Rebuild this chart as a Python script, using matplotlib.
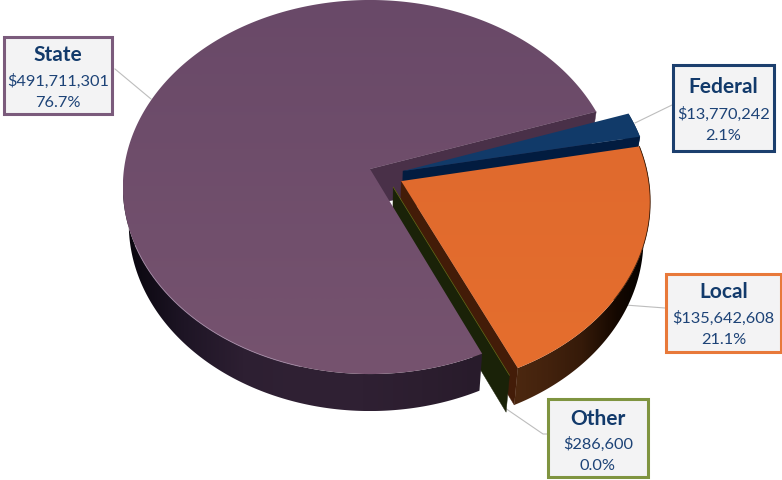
import numpy as np
import matplotlib
matplotlib.use("Agg")
import matplotlib.pyplot as plt
from matplotlib.colors import LinearSegmentedColormap
from matplotlib.patches import Rectangle, Polygon

# Funding by source, listed clockwise from the first slice
categories = ["Federal", "Local", "Other", "State"]
amounts = [13770242, 135642608, 286600, 491711301]
percent_labels = ["2.1%", "21.1%", "0.0%", "76.7%"]

plt.rcParams["font.family"] = ["Lato", "DejaVu Sans"]

W, H = 782, 481
fig = plt.figure(figsize=(W / 100, H / 100), dpi=100)
ax = fig.add_axes([0, 0, 1, 1])
ax.set_xlim(0, W)
ax.set_ylim(H, 0)
ax.axis("off")

# Perspective view of the unit disk; the lower rim sits slightly narrower
CX, CY = 370.0, 170.0
A, P, Q = 246.0, 185.3, 0.0963
DEPTH = 37.0
BOTTOM_SCALE = 0.976
START_ANGLE = 18.6

# Explosion offset of each slice, in disk units
offsets = {"Federal": (0.134, -0.011), "Local": (0.126, -0.065),
           "Other": (0.0935, -0.097), "State": (0.0, 0.0)}
top_colors = {"Federal": ("#113a69", "#123b6a"), "Local": ("#e06a2e", "#e56e2d"),
              "Other": ("#1a2208", "#1a2208"), "State": ("#694968", "#76536f")}


def project(c, s):
    w = 1 + Q * s
    return CX + A * c / w, CY - P * s / w


def lower(x, y):
    return CX + (x - CX) * BOTTOM_SCALE, y + DEPTH


def slice_angles():
    sweep = np.array(amounts) / sum(amounts) * 360
    ends = START_ANGLE - np.cumsum(sweep)
    starts = ends + sweep
    return dict(zip(categories, zip(starts, ends)))


ANG = slice_angles()


def arc(name, n=400):
    a0, a1 = ANG[name]
    t = np.radians(np.linspace(a0, a1, n))
    dx, dy = offsets[name]
    return np.cos(t) + dx, np.sin(t) + dy


def top_outline(name):
    c, s = arc(name)
    ox, oy = offsets[name]
    x, y = project(np.r_[ox, c], np.r_[oy, s])
    return np.column_stack([x, y])


def radial_wall(name, angle, color, z):
    ox, oy = offsets[name]
    t = np.radians(angle)
    x0, y0 = project(ox, oy)
    x1, y1 = project(np.cos(t) + ox, np.sin(t) + oy)
    ax.add_patch(Polygon([(x0, y0), (x1, y1), lower(x1, y1), lower(x0, y0)],
                         closed=True, fc=color, ec=color, lw=0.3, zorder=z))


def painted(pts, colors, z, horizontal=False):
    """Fill a polygon with a linear colour ramp clipped to its outline."""
    patch = Polygon(pts, closed=True, fc="none", ec="none", zorder=z)
    ax.add_patch(patch)
    cmap = LinearSegmentedColormap.from_list("ramp", colors)
    ramp = np.linspace(0, 1, 512)
    data = ramp[None, :] if horizontal else ramp[:, None]
    x0, x1 = pts[:, 0].min(), pts[:, 0].max()
    y0, y1 = pts[:, 1].min(), pts[:, 1].max()
    im = ax.imshow(data, cmap=cmap, aspect="auto", extent=(x0, x1, y1, y0),
                   zorder=z, interpolation="bilinear")
    im.set_clip_path(patch)
    ax.set_xlim(0, W)
    ax.set_ylim(H, 0)


def outer_wall(name, colors, z):
    c, s = arc(name)
    if name == "State":
        # only the front run of the long rim can be seen
        keep = s < -Q
        c, s = c[keep], s[keep]
    x, y = project(c, s)
    bx, by = lower(x, y)
    pts = np.column_stack([np.r_[x, bx[::-1]], np.r_[y, by[::-1]]])
    painted(pts, colors, z, horizontal=True)


def gradient_top(name, z):
    painted(top_outline(name), top_colors[name], z)


# Leader lines, under everything else
leaders = {"State": [(115, 70), (151, 100)],
           "Federal": [(635, 124), (672, 106)],
           "Local": [(625, 306), (665, 309)],
           "Other": [(505, 409), (543, 435), (548, 435)]}
for pts in leaders.values():
    xs, ys = zip(*pts)
    ax.plot(xs, ys, color="#bdbdbd", lw=0.8, zorder=1)

# Back to front: state cut face, federal, local, other, state
radial_wall("State", ANG["State"][1], "#493048", 2)
radial_wall("Federal", ANG["Federal"][1], "#021c40", 3)
outer_wall("Federal", ["#021c40", "#021c40"], 3)
gradient_top("Federal", 4)

radial_wall("Local", ANG["Local"][1], "#431c08", 5)
outer_wall("Local", ["#4c2810", "#43220d", "#351a09", "#150800", "#000000"], 5)

radial_wall("Other", ANG["Other"][0], "#1a2208", 6)

outer_wall("State", ["#07050c", "#1e1525", "#2d1f32", "#302134", "#2f2033",
                     "#2c1e2f", "#281b2b"], 7)
gradient_top("Local", 8)
gradient_top("State", 9)

# Fine lines along the slice edges
c, s = arc("Local")
x, y = project(c, s)
ax.plot(x[:250], y[:250], color="#3c1c08", lw=0.6, zorder=10)
ox, oy = offsets["Other"]
t = np.radians(ANG["Other"][0])
x0, y0 = project(ox, oy)
x1, y1 = project(np.cos(t) + ox, np.sin(t) + oy)
ax.plot([x0, x1], [y0, y1], color="#6b6b18", lw=0.5, zorder=6.5)

# Pale highlight on the lower left rim of the state slice
c, s = arc("State", 1200)
x, y = project(c, s)
mask = (x > 135) & (x < 300) & (y > 240)
ax.plot(x[mask], y[mask], color="#a68ca8", lw=0.7, alpha=0.8, zorder=10)

# Callout boxes
boxes = {"State": ((4, 38, 108, 77), "#7b5b7c", (55, 81, 103)),
         "Federal": ((673, 66, 101, 86), "#1c3f6e", (87, 114, 136)),
         "Local": ((666, 275, 115, 78), "#e8793a", (292, 318, 340)),
         "Other": ((548, 400, 100, 78), "#7f9440", (419, 444, 466))}
for name, value, pct in zip(categories, amounts, percent_labels):
    (bx, by, bw, bh), edge, (ty, ay, py) = boxes[name]
    ax.add_patch(Rectangle((bx + 2, by + 2), bw, bh, fc="#000000", alpha=0.15,
                           ec="none", zorder=11))
    ax.add_patch(Rectangle((bx, by), bw, bh, fc="#f3f3f4", ec=edge, lw=2.2, zorder=12))
    mid = bx + bw / 2
    ax.text(mid, ty, name, ha="center", va="center", fontsize=15,
            fontweight="bold", color="#123a6b", zorder=13)
    ax.text(mid, ay, f"${value:,}", ha="center", va="center", fontsize=11.8,
            color="#1d4377", zorder=13)
    ax.text(mid, py, pct, ha="center", va="center", fontsize=11.8,
            color="#1d4377", zorder=13)

fig.savefig("out.png", dpi=100, facecolor="white")
